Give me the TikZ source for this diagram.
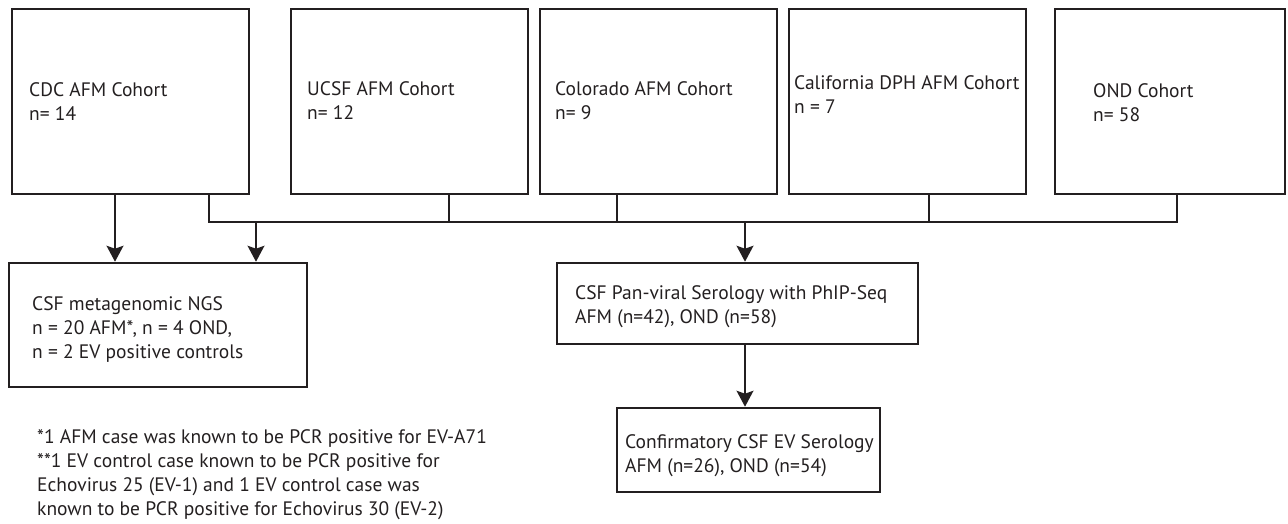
\documentclass[tikz,border=0pt]{standalone}
\usepackage{fontspec}
\setmainfont{PT Sans}
\usetikzlibrary{arrows.meta}
\definecolor{ink}{HTML}{231F20}
\begin{document}
\begin{tikzpicture}[x=1pt,y=-1pt,
  topbox/.style={draw=ink, line width=1.7pt, minimum width=237pt, minimum height=185pt, inner sep=0pt},
  lowbox/.style={draw=ink, line width=2.6pt, inner sep=0pt},
  lbl/.style={anchor=base west, inner sep=0pt, text=ink, font=\fontsize{19.5}{24}\selectfont},
  link/.style={draw=ink, line width=1.4pt},
  arr/.style={link, -{Stealth[length=16pt,width=17pt,inset=3pt]}}]
\useasboundingbox (0,0) rectangle (1288,523);
% top boxes
\node[topbox] (cdc) at (130.5,101.5) {};
\node[topbox] (ucsf) at (409.5,101.5) {};
\node[topbox] (colo) at (658.5,101.5) {};
\node[topbox] (cal) at (907.5,101.5) {};
\node[topbox, minimum width=230pt] (ond) at (1170,101.5) {};
% lower boxes
\node[lowbox, minimum width=298pt, minimum height=124pt] (ngs) at (158,325) {};
\node[lowbox, minimum width=361pt, minimum height=81pt] (phip) at (737.5,303.5) {};
\node[lowbox, minimum width=263pt, minimum height=84pt] (conf) at (748.5,450) {};
% texts
\node[lbl] (cdct) at (29,96) {\begin{tabular}[t]{@{}l@{}}CDC AFM Cohort\\n= 14\end{tabular}};
\node[lbl] (ucsft) at (307,95) {\begin{tabular}[t]{@{}l@{}}UCSF AFM Cohort\\n= 12\end{tabular}};
\node[lbl] (colot) at (555,95) {\begin{tabular}[t]{@{}l@{}}Colorado AFM Cohort\\n= 9\end{tabular}};
\node[lbl] (calt) at (794,89) {\begin{tabular}[t]{@{}l@{}}California DPH AFM Cohort\\n = 7\end{tabular}};
\node[lbl] (ondt) at (1093,97) {\begin{tabular}[t]{@{}l@{}}OND Cohort\\n= 58\end{tabular}};
\node[lbl] (ngst) at (32,310) {\begin{tabular}[t]{@{}l@{}}CSF metagenomic NGS\\n = 20 AFM*, n = 4 OND,\\n = 2 EV positive controls\end{tabular}};
\node[lbl] (phipt) at (575,299) {\begin{tabular}[t]{@{}l@{}}CSF Pan-viral Serology with PhIP-Seq\\AFM (n=42), OND (n=58)\end{tabular}};
\node[lbl] (conft) at (625,448) {\begin{tabular}[t]{@{}l@{}}Confirmatory CSF EV Serology\\AFM (n=26), OND (n=54)\end{tabular}};
\node[lbl] (foot) at (37,443) {\begin{tabular}[t]{@{}l@{}}*1 AFM case was known to be PCR positive for EV-A71\\{}**1 EV control case known to be PCR positive for\\Echovirus 25 (EV-1) and 1 EV control case was\\known to be PCR positive for Echovirus 30 (EV-2)\end{tabular}};
% connector coordinates
\coordinate (bus) at (0,222);
\coordinate (d0) at (209,0);
\coordinate (d1) at (449,0);
\coordinate (d2) at (617,0);
\coordinate (d3) at (929,0);
\coordinate (d4) at (1177,0);
\coordinate (a0) at (115,0);
\coordinate (a1) at (256,0);
\coordinate (a2) at (745,0);
% bus
\draw[link] (cdc.south -| d0) -- (d0 |- bus) -- (d4 |- bus) -- (ond.south -| d4);
\draw[link] (ucsf.south -| d1) -- (d1 |- bus);
\draw[link] (colo.south -| d2) -- (d2 |- bus);
\draw[link] (cal.south -| d3) -- (d3 |- bus);
% arrows
\draw[arr] (cdc.south -| a0) -- (ngs.north -| a0);
\draw[arr] (a1 |- bus) -- (ngs.north -| a1);
\draw[arr] (a2 |- bus) -- (phip.north -| a2);
\draw[arr] (phip.south -| a2) -- (conf.north -| a2);
\end{tikzpicture}
\end{document}
